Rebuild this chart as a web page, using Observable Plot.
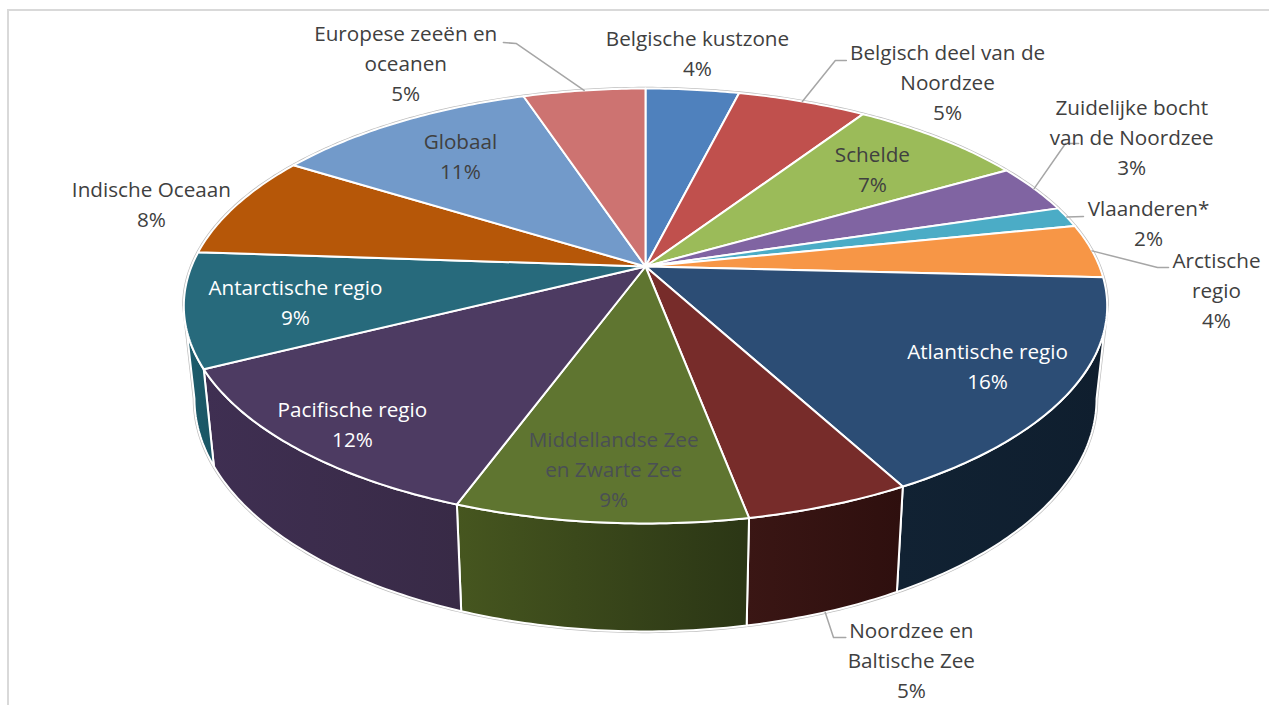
<!DOCTYPE html>
<html>
<head>
<meta charset="utf-8">
<style>
html,body{margin:0;padding:0;background:#fff;overflow:hidden}
#wrap{position:relative;width:1269px;height:705px}
#frame{position:absolute;left:7px;top:9px;right:0;bottom:0;border-left:2px solid #d9d9d9;border-top:2px solid #d9d9d9}
#chart{position:absolute;left:0;top:0}
</style>
<script src="https://cdn.jsdelivr.net/npm/d3@7"></script>
<script src="https://cdn.jsdelivr.net/npm/@observablehq/plot@0.6"></script>
</head>
<body>
<div id="wrap"><div id="frame"></div><div id="chart"></div></div>
<script>
const categories = ["Belgische kustzone","Belgisch deel van de\nNoordzee","Schelde","Zuidelijke bocht\nvan de Noordzee","Vlaanderen*","Arctische\nregio","Atlantische regio","Noordzee en\nBaltische Zee","Middellandse Zee\nen Zwarte Zee","Pacifische regio","Antarctische regio","Indische Oceaan","Globaal","Europese zeeën en\noceanen"];
const shares = [3.9,5.4,7.4,3.6,1.5,4.0,16.3,4.9,8.6,12.0,8.5,7.75,11.05,5.1];
const printed = [4,5,7,3,2,4,16,5,9,12,9,8,11,5];
const topColors = ["#4F81BD","#C0504D","#9BBB59","#8064A2","#4BACC6","#F79646","#2C4D75","#772C2A","#5F7530","#4D3B62","#276A7C","#B65708","#729ACA","#CD7371"];
const wallLeft = [null,null,null,null,null,null,"#112233","#3a1614","#46561f","#3f2f52","#1d5d6d",null,null,null];
const wallRight = [null,null,null,null,null,null,"#0f1e2e","#2e0f0e","#2b3615","#382a46","#1a5564",null,null,null];
const textColors = ["#404040","#404040","#404040","#404040","#404040","#404040","#ffffff","#404040","#4a4f55","#ffffff","#ffffff","#404040","#404040","#404040"];
// label placement on the pie's plane: turn round the pie, radius as a share of the pie's
const labelTurn = [.018,.1039,.1322,.1678,.2217,.265,.3403,.4519,.5115,.6125,.7143,.7914,.8939,.92];
const labelRadius = [1.242,1.301,.738,1.3845,1.168,1.2366,.8218,1.467,.8269,.874,.7663,1.1887,.7278,1.328];
// leader elbows on the same plane, per labelled slice; base says which rim the leader starts from
const leaders = [
  {slice:1, base:false, bends:[[.0642,1.2958],[.0675,1.3076]]},
  {slice:3, base:false, bends:[[.1603,1.2245],[.1625,1.2517]]},
  {slice:4, base:false, bends:[[.2115,1.0385]]},
  {slice:5, base:false, bends:[[.2507,1.1268],[.2507,1.151]]},
  {slice:7, base:true,  bends:[[.4633,1.3723],[.461,1.3773]]},
  {slice:13,base:false, bends:[[.9582,1.36],[.9545,1.3763]]}
];

const k = -0.1816;               // perspective of the tilted disc
const silhouette = 0.279;        // turn at which the disc is widest on screen
const project = (t, r = 1) => {
  const a = 2 * Math.PI * t, u = r * Math.sin(a), v = -r * Math.cos(a), w = 1 + k * v;
  return [u / w, v / w];
};
const base = (t) => { const [x, y] = project(t); return [0.977 * x, 0.428 + 1.07 * y]; };
const arc = (f, t0, t1) => {
  const n = Math.max(2, Math.ceil(Math.abs(t1 - t0) / 0.002));
  return d3.range(n + 1).map(i => f(t0 + (t1 - t0) * i / n));
};

const total = d3.sum(shares);
let acc = 0;
const spans = shares.map(s => { const a = acc / total; acc += s; return [a, acc / total]; });

const X = d => d[0], Y = d => d[1];
const polygon = (pts, o) => Plot.line(pts, {x: X, y: Y, curve: "linear-closed", ...o});

const defs = () => {
  const d = d3.create("svg:defs");
  wallLeft.forEach((c, i) => {
    if (!c) return;
    const g = d.append("linearGradient").attr("id", `wall${i}`);
    g.append("stop").attr("offset", "0%").attr("stop-color", c);
    g.append("stop").attr("offset", "100%").attr("stop-color", wallRight[i]);
  });
  return d.node();
};

const outline = [...arc(project, -silhouette, silhouette), ...arc(base, silhouette, 1 - silhouette)];

const walls = spans.flatMap(([a, b], i) => {
  const s = Math.max(a, silhouette), e = Math.min(b, 1 - silhouette);
  if (e <= s || !wallLeft[i]) return [];
  return [polygon([...arc(project, s, e), ...arc(base, e, s)], {fill: `url(#wall${i})`, stroke: "#fff", strokeWidth: 2})];
});
const tops = spans.map(([a, b], i) =>
  polygon([[0, 0], ...arc(project, a, b)], {fill: topColors[i], stroke: "#fff", strokeWidth: 2, strokeLinejoin: "round"}));

const leaderLines = leaders.map(l => {
  const [a, b] = spans[l.slice], m = (a + b) / 2;
  const start = l.base ? base(m) : project(m);
  return Plot.line([start, ...l.bends.map(([t, r]) => project(t, r))], {x: X, y: Y, stroke: "#a6a6a6", strokeWidth: 1.5});
});

const labels = categories.map((c, i) => {
  const [x, y] = project(labelTurn[i], labelRadius[i]);
  return {x, y, text: `${c}\n${printed[i]}%`, color: textColors[i]};
});

const a = 454, b = 210.3, cx = 645, cy = 266, W = 1269, H = 705;
const chart = Plot.plot({
  width: W, height: H, margin: 0,
  style: {background: "transparent"},
  x: {domain: [-cx / a, (W - cx) / a], range: [0, W], axis: null},
  y: {domain: [-cy / b, (H - cy) / b], range: [0, H], axis: null},
  marks: [
    defs,
    polygon(outline, {fill: "none", stroke: "#bdbdbd", strokeWidth: 3.4}),
    ...walls,
    ...tops,
    ...leaderLines,
    Plot.text(labels, {x: "x", y: "y", dy: -3, text: "text", fill: d => d.color, fontSize: 20.7, fontFamily: "Open Sans", lineHeight: 1.45, lineAnchor: "middle", textAnchor: "middle"})
  ],
  color: {type: "identity"}
});
document.getElementById("chart").append(chart);
</script>
</body>
</html>
